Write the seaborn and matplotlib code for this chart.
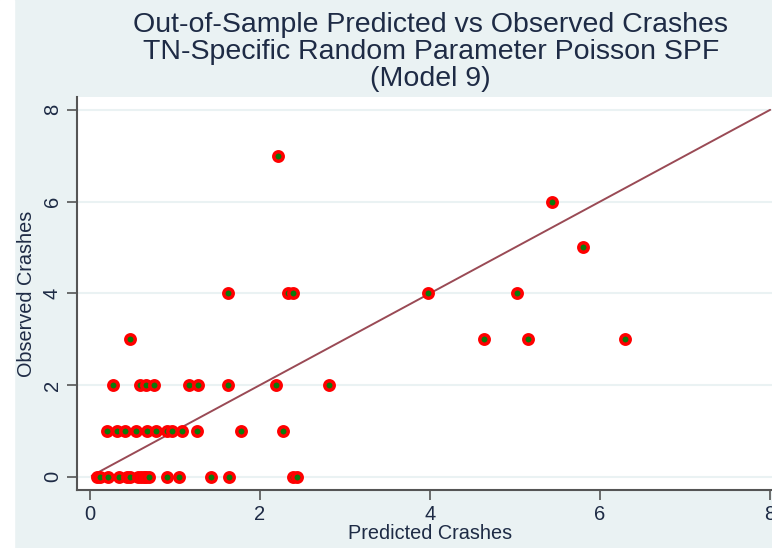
import numpy as np
import pandas as pd
import matplotlib
matplotlib.use('Agg')
import matplotlib.pyplot as plt
import seaborn as sns

# Predicted / observed crashes
predicted = [0.08, 0.12, 0.21, 0.34, 0.44, 0.47, 0.57, 0.60, 0.63, 0.66, 0.69, 0.91, 1.05, 1.42, 1.64, 2.39, 2.43,
             0.20, 0.32, 0.41, 0.54, 0.67, 0.78, 0.91, 0.96, 1.08, 1.26, 1.77, 2.27,
             0.27, 0.59, 0.66, 0.75, 1.16, 1.27, 1.62, 2.19, 2.81,
             0.47, 4.64, 5.15, 6.29,
             1.62, 2.33, 2.39, 3.98, 5.02,
             5.80,
             5.43,
             2.21]
observed = [0] * 17 + [1] * 12 + [2] * 9 + [3] * 4 + [4] * 5 + [5] + [6] + [7]

# 45-degree reference line
line_x = [0.02, 8]
line_y = [0.02, 8]

xticks = [0, 2, 4, 6, 8]
yticks = [0, 2, 4, 6, 8]

bg = '#eaf2f3'
navy = '#1e2b45'

sns.set_theme(style='white')
plt.rcParams['font.family'] = ['Liberation Sans', 'DejaVu Sans']

df = pd.DataFrame({'Predicted': predicted, 'Observed': observed})

fig = plt.figure(figsize=(7.72, 5.48), dpi=100)
fig.patch.set_facecolor(bg)
# thin white strip on the left edge of the screenshot
fig.patches.append(plt.Rectangle((0, 0), 14 / 772, 1, transform=fig.transFigure,
                                 color='white', zorder=0))

ax = fig.add_axes([0.1001, 0.1058, 0.914, 0.7172])
ax.set_facecolor('white')

for y in yticks:
    ax.axhline(y, color=bg, lw=1.5, zorder=0)

ax.plot(line_x, line_y, color='#9a4a55', lw=1.4, zorder=2)

sns.scatterplot(data=df, x='Predicted', y='Observed', ax=ax, color='#0b7a0b',
                edgecolor='#ff0000', linewidth=2.5, s=46, zorder=3)

ax.set_xlim(-0.15, 8.15)
ax.set_ylim(-0.29, 8.28)
ax.set_xticks(xticks)
ax.set_yticks(yticks)
ax.set_xticklabels([str(t) for t in xticks], fontsize=14.5, color=navy)
ax.set_yticklabels([str(t) for t in yticks], fontsize=14.5, color=navy,
                   rotation=90, va='center')
ax.tick_params(axis='both', length=7, width=1.2, color='#555555', pad=4,
               bottom=True, left=True)

for side in ['top', 'right']:
    ax.spines[side].set_visible(False)
for side in ['left', 'bottom']:
    ax.spines[side].set_color('#555555')
    ax.spines[side].set_linewidth(1.5)

ax.set_xlabel('Predicted Crashes', fontsize=14.3, color=navy, labelpad=0)
ax.set_ylabel('Observed Crashes', fontsize=14.3, color=navy, labelpad=5)

fig.text(0.558, 0.979, 'Out-of-Sample Predicted vs Observed Crashes\n'
         'TN-Specific Random Parameter Poisson SPF\n(Model 9)',
         ha='center', va='top', fontsize=20.5, color=navy, linespacing=1.05)

fig.savefig('out.png', dpi=100, facecolor=bg)
